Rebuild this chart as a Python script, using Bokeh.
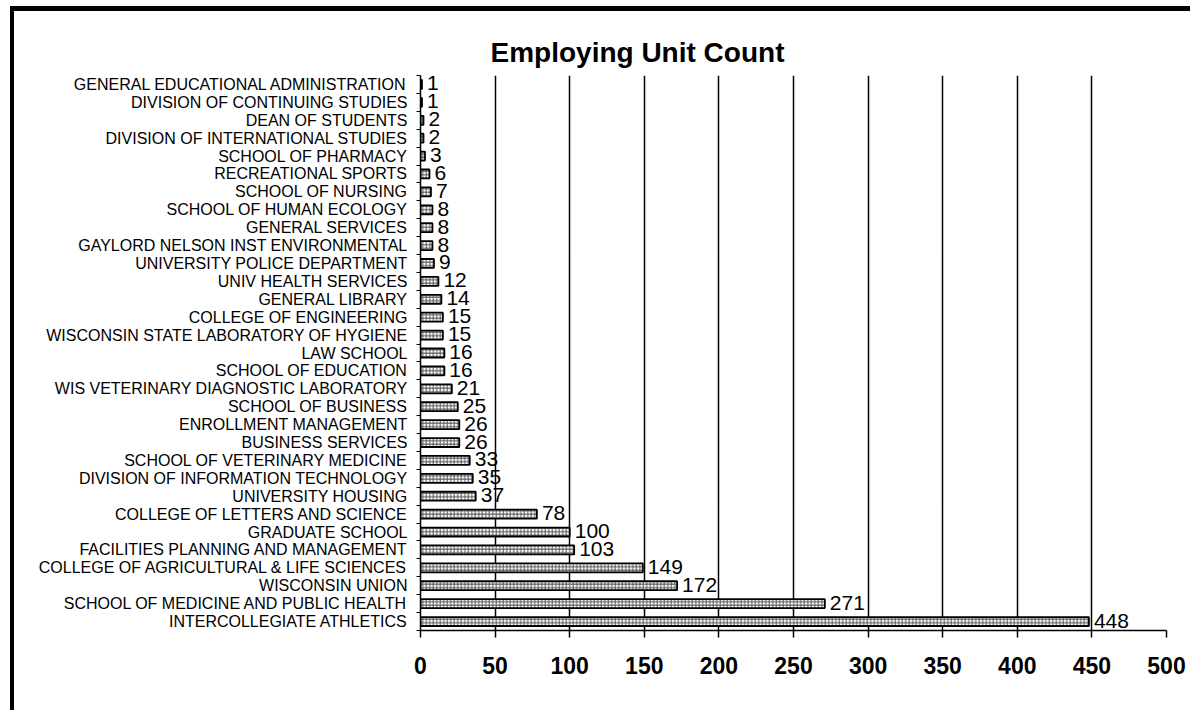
from bokeh.plotting import figure
from bokeh.models import Range1d, FixedTicker, ColumnDataSource, Title
from bokeh.core.properties import value
from bokeh.embed import file_html
from bokeh.resources import INLINE

units = [
    "GENERAL EDUCATIONAL ADMINISTRATION",
    "DIVISION OF CONTINUING STUDIES",
    "DEAN OF STUDENTS",
    "DIVISION OF INTERNATIONAL STUDIES",
    "SCHOOL OF PHARMACY",
    "RECREATIONAL SPORTS",
    "SCHOOL OF NURSING",
    "SCHOOL OF HUMAN ECOLOGY",
    "GENERAL SERVICES",
    "GAYLORD NELSON INST ENVIRONMENTAL",
    "UNIVERSITY POLICE DEPARTMENT",
    "UNIV HEALTH SERVICES",
    "GENERAL LIBRARY",
    "COLLEGE OF ENGINEERING",
    "WISCONSIN STATE LABORATORY OF HYGIENE",
    "LAW SCHOOL",
    "SCHOOL OF EDUCATION",
    "WIS VETERINARY DIAGNOSTIC LABORATORY",
    "SCHOOL OF BUSINESS",
    "ENROLLMENT MANAGEMENT",
    "BUSINESS SERVICES",
    "SCHOOL OF VETERINARY MEDICINE",
    "DIVISION OF INFORMATION TECHNOLOGY",
    "UNIVERSITY HOUSING",
    "COLLEGE OF LETTERS AND SCIENCE",
    "GRADUATE SCHOOL",
    "FACILITIES PLANNING AND MANAGEMENT",
    "COLLEGE OF AGRICULTURAL & LIFE SCIENCES",
    "WISCONSIN UNION",
    "SCHOOL OF MEDICINE AND PUBLIC HEALTH",
    "INTERCOLLEGIATE ATHLETICS",
]
counts = [1, 1, 2, 2, 3, 6, 7, 8, 8, 8, 9, 12, 14, 15, 15, 16, 16, 21, 25, 26, 26,
          33, 35, 37, 78, 100, 103, 149, 172, 271, 448]
x_ticks = [0, 50, 100, 150, 200, 250, 300, 350, 400, 450, 500]
title_text = "Employing Unit Count"

n = len(units)
pos = [n - 1 - i + 0.5 for i in range(n)]
src = ColumnDataSource(dict(y=pos, v=counts, lab=[str(c) for c in counts]))

FONT = "Liberation Sans"

p = figure(width=1180, height=704, output_backend="svg", toolbar_location=None,
           x_range=Range1d(0, 500), y_range=Range1d(0, n),
           min_border_left=406, min_border_right=28, min_border_top=64,
           min_border_bottom=85)
p.styles = {"margin-left": "10px", "margin-top": "6px",
            "border-left": "4px solid black", "border-top": "5px solid black"}
p.outline_line_color = None
p.background_fill_color = "white"
p.border_fill_color = "white"

t = Title(text=title_text, align="left", offset=70, text_font=FONT,
          text_font_size="28px", text_font_style="bold", text_color="black",
          standoff=15)
p.add_layout(t, "above")

p.hbar(y="y", right="v", left=0, height=0.5, source=src,
       fill_color="white", line_color="black", line_width=1.8,
       hatch_pattern="cross", hatch_scale=3.5, hatch_weight=1, hatch_color="#555555")

p.text(x="v", y="y", text="lab", source=src, x_offset=5, y_offset=-1,
       text_baseline="middle", text_align="left", text_font=value(FONT),
       text_font_size="21px", text_color="black")

# x axis
xa = p.xaxis[0]
xa.ticker = FixedTicker(ticks=x_ticks, minor_ticks=[])
xa.axis_line_color = "black"
xa.axis_line_width = 1.5
xa.major_tick_out = 7
xa.major_tick_in = 0
xa.major_tick_line_width = 1.5
xa.minor_tick_line_color = None
xa.major_label_standoff = 19
xa.major_label_text_font = FONT
xa.major_label_text_font_size = "23px"
xa.major_label_text_font_style = "bold"
xa.major_label_text_color = "black"

# y axis
ya = p.yaxis[0]
ya.ticker = FixedTicker(ticks=pos, minor_ticks=[float(i) for i in range(n + 1)])
ya.major_label_overrides = {pv: u for pv, u in zip(pos, units)}
ya.axis_line_color = "black"
ya.axis_line_width = 1.5
ya.major_tick_out = 0
ya.major_tick_in = 0
ya.minor_tick_out = 4
ya.minor_tick_in = 0
ya.minor_tick_line_color = "black"
ya.minor_tick_line_width = 1.2
ya.major_label_standoff = 9
ya.major_label_text_font = FONT
ya.major_label_text_font_size = "16px"
ya.major_label_text_color = "black"

p.xgrid.ticker = FixedTicker(ticks=x_ticks[1:-1])
p.xgrid.grid_line_color = "black"
p.xgrid.grid_line_width = 1.5
p.ygrid.visible = False

open("out.html", "w").write(file_html(p, INLINE))
